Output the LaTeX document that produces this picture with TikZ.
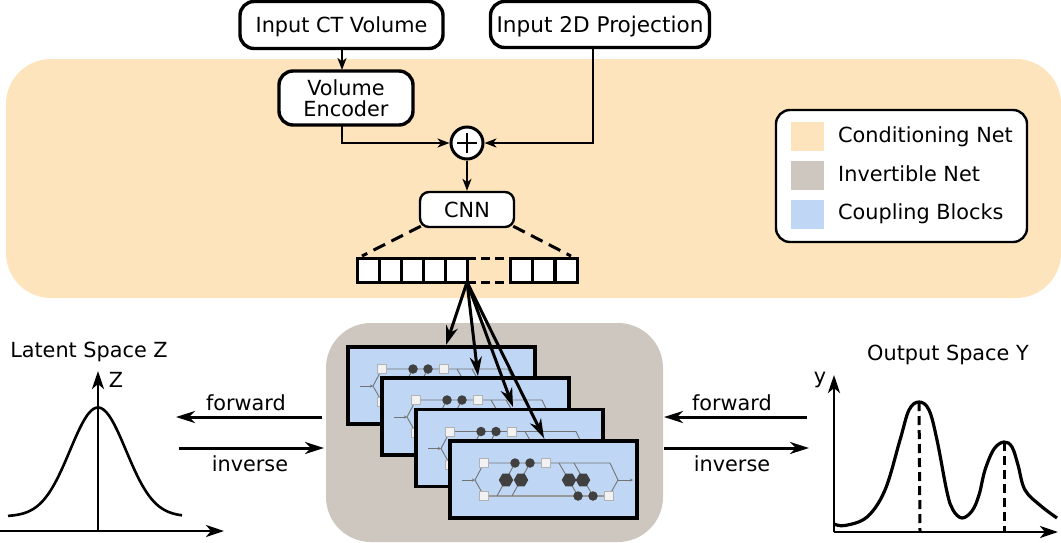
\documentclass[tikz,border=0pt]{standalone}
\usepackage{fontspec}
\setmainfont{DejaVu Sans}
\usetikzlibrary{arrows.meta,shapes.geometric}
\definecolor{condcol}{HTML}{FEE4BC}
\definecolor{invcol}{HTML}{CDC7C0}
\definecolor{blockcol}{HTML}{BFD7F4}
\definecolor{darkhex}{HTML}{404040}
\tikzset{
  txt/.style={font=\fontsize{20.8}{24}\selectfont,inner sep=0pt,align=center},
  netbox/.style={draw,fill=white,rounded corners=14pt,line width=3.4pt,align=center,font=\fontsize{20.8}{24}\selectfont,inner sep=0pt},
  swatch/.style={minimum width=33,minimum height=29,inner sep=0pt},
  cell/.style={draw,fill=white,line width=3pt,minimum width=22,minimum height=24,inner sep=0pt,outer sep=0pt},
  thin arrow/.style={line width=2pt,-{Stealth[length=12pt,width=9pt,inset=3.5pt]}},
  big arrow/.style={line width=3pt,-{Stealth[length=19pt,width=12pt,inset=6pt]}},
  axis arrow/.style={line width=2.8pt,-{Stealth[length=18pt,width=12pt,inset=5pt]}},
  sq/.style={draw=black!30,fill=black!5,line width=.9pt,minimum size=9,inner sep=0pt},
  dot/.style={circle,fill=darkhex,minimum size=9.5,inner sep=0pt},
  hex/.style={regular polygon,regular polygon sides=6,fill=darkhex,minimum size=14.5,inner sep=0pt},
  wire/.style={draw=black!55,line width=.9pt},
  couplingblock/.pic={
    \node[draw,fill=blockcol,line width=3.6pt,anchor=north west,outer sep=0pt,minimum width=187,minimum height=77,inner sep=0pt] (-card) at (0,0) {};
    \coordinate (-in) at (12,39);
    \coordinate (-split) at (25,39);
    \coordinate (-turn) at (160,22);
    \coordinate (-merge) at (168,39);
    \coordinate (-out) at (183,39);
    \coordinate (-tapa) at (47,55);
    \coordinate (-tapb) at (62,55);
    \coordinate (-tapc) at (109,22);
    \coordinate (-tapd) at (124,22);
    \draw[wire,-{Stealth[length=3pt,width=3pt]}] (-in) -- (-split);
    \draw[wire,-{Stealth[length=3pt,width=3pt]}] (-merge) -- (-out);
    \draw[wire] (34,22) -- (-split) -- (34,55);
    \draw[wire] (34,22) -- (96,22) -- (-turn) -- (-merge) -- (159,55);
    \draw[draw=black!40,line width=1.5pt] (34,55) -- (159,55);
    \draw[wire] (-tapa) -- (65,22);
    \draw[wire] (-tapb) -- (80,22);
    \draw[wire] (-tapc) -- (128,55);
    \draw[wire] (-tapd) -- (143,55);
    \node[sq] (-sqa) at (34,22) {};
    \node[sq] (-sqb) at (34,55) {};
    \node[sq] (-sqc) at (96,22) {};
    \node[sq] (-sqd) at (159,55) {};
    \node[dot] (-dota) at (65,22) {};
    \node[dot] (-dotb) at (80,22) {};
    \node[dot] (-dotc) at (128,55) {};
    \node[dot] (-dotd) at (143,55) {};
    \node[hex] (-hexa) at (56,39) {};
    \node[hex] (-hexb) at (71,39) {};
    \node[hex] (-hexc) at (119,39) {};
    \node[hex] (-hexd) at (133,39) {};
  }
}

\begin{document}
\begin{tikzpicture}[x=1pt,y=-1pt]
\useasboundingbox (0,0) rectangle (1061,542);

% panels
\fill[condcol,rounded corners=45pt] (6,59) rectangle (1061,298);
\fill[invcol,rounded corners=45pt] (326,323) rectangle (663,542);

% conditioning net
\node[netbox,text depth=0pt,minimum width=203,minimum height=47] (ctvol) at (341.5,25) {Input CT Volume};
\node[netbox,text depth=0pt,minimum width=219,minimum height=46,font=\fontsize{21.6}{24}\selectfont] (proj) at (600,24.5) {Input 2D Projection};
\node[netbox,minimum width=134,minimum height=54] (enc) at (346,98) {Volume\\[-2.5pt]Encoder};
\node[draw,circle,fill=white,line width=3pt,minimum size=32,inner sep=0pt] (plus) at (467,143) {};
\draw[line width=2.6pt] (plus.center) ++(-10,0) -- ++(20,0) (plus.center) ++(0,-10) -- ++(0,20);
\node[netbox,rounded corners=9pt,line width=2.4pt,minimum width=94,minimum height=35] (cnn) at (467,209.5) {CNN};

\coordinate (enctop) at (342,70);
\coordinate (ctbot) at (342,49);
\coordinate (encbot) at (342,125);
\coordinate (projbot) at (593,48);
\draw[thin arrow] (ctbot) -- (enctop);
\draw[thin arrow] (encbot) |- (plus.west);
\draw[thin arrow] (projbot) |- (plus.east);
\draw[thin arrow] (plus.south) -- (cnn.north);

% feature vector
\foreach \n/\cx in {1/368,2/390,3/412,4/434,5/456,6/521,7/543.5,8/566}
  \node[cell] (cell\n) at (\cx,270) {};
\draw[line width=3pt,dash pattern=on 9pt off 5pt] (cell5.north east) -- (cell6.north west) (cell5.south east) -- (cell6.south west);
\coordinate (fanl) at (362,256);
\coordinate (fanr) at (571,256);
\draw[line width=3pt,dash pattern=on 13pt off 7pt] (cnn.south west) ++(2,-2) -- (fanl);
\draw[line width=3pt,dash pattern=on 13pt off 7pt] (cnn.south east) ++(-2,-2) -- (fanr);

% coupling blocks
\pic (blocka) at (348,347) {couplingblock};
\pic (blockb) at (382,378) {couplingblock};
\pic (blockc) at (416,409.5) {couplingblock};
\pic (blockd) at (450,441) {couplingblock};

\coordinate (tipa) at (446,345);
\coordinate (tipb) at (478,376);
\coordinate (tipc) at (513,407);
\coordinate (tipd) at (544,438);
\foreach \t in {a,b,c,d}
  \draw[big arrow] (cell5.south east) -- (tip\t);

% forward and inverse
\coordinate (fwla) at (322,417);
\coordinate (fwlb) at (176,417);
\coordinate (invla) at (179,448);
\coordinate (invlb) at (324,448);
\coordinate (fwra) at (807,417);
\coordinate (fwrb) at (664,417);
\coordinate (invra) at (664,448);
\coordinate (invrb) at (809,448);
\draw[big arrow] (fwla) -- (fwlb);
\draw[big arrow] (invla) -- (invlb);
\draw[big arrow] (fwra) -- (fwrb);
\draw[big arrow] (invra) -- (invrb);
\node[txt] (fwltxt) at (246,403) {forward};
\node[txt] (invltxt) at (250,464) {inverse};
\node[txt] (fwrtxt) at (732,402.5) {forward};
\node[txt] (invrtxt) at (732,464) {inverse};

% latent space
\node[txt] (latent) at (89,352) {Latent Space Z};
\coordinate (zo) at (98,531);
\coordinate (zx0) at (0,531);
\coordinate (zx1) at (224,531);
\coordinate (zy1) at (98,371);
\draw[line width=2.6pt,domain=8:182,samples=70,smooth] plot (\x,{516.5-109*exp(-((\x-98)/28)^2/2)});
\draw[axis arrow] (zx0) -- (zx1);
\draw[axis arrow] (zo) -- (zy1);
\node[txt] (zlabel) at (116,380) {Z};

% output space
\node[txt] (output) at (948,355) {Output Space Y};
\coordinate (yo) at (834,532);
\coordinate (yx1) at (1058,532);
\coordinate (yy1) at (834,375);
\coordinate (peaka) at (919,402);
\coordinate (peakb) at (1004,442);
\coordinate (basea) at (920,531);
\coordinate (baseb) at (1004,531);
\draw[line width=3.2pt] plot[smooth,tension=.6] coordinates {(834,524) (845,525.5) (867,517) (885,490) (900,440) (909,410) (919,402) (929,410) (937,440) (947,492) (953,510) (962,518) (972,511) (979,495) (985,470) (994,449) (1004,442) (1012,447) (1018,465) (1025,490) (1041,506) (1057,518)};
\draw[axis arrow] (yo) -- (yx1);
\draw[axis arrow] (yo) -- (yy1);
\draw[line width=3pt,dash pattern=on 9pt off 5pt] (peaka) -- (basea);
\draw[line width=3pt,dash pattern=on 9pt off 5pt] (peakb) -- (baseb);
\node[txt] (ylabel) at (820,380) {y};

% legend
\node[draw,fill=white,rounded corners=14pt,line width=2.4pt,minimum width=251,minimum height=132,inner sep=0pt] (legend) at (901.5,176) {};
\node[swatch,fill=condcol] (keycond) at (807.5,136) {};
\node[swatch,fill=invcol] (keyinv) at (807.5,175) {};
\node[swatch,fill=blockcol] (keyblock) at (807.5,214) {};
\node[txt,anchor=west] (txtcond) at (838,137) {Conditioning Net};
\node[txt,anchor=west] (txtinv) at (838,174) {Invertible Net};
\node[txt,anchor=west] (txtblock) at (838,214) {Coupling Blocks};
\end{tikzpicture}
\end{document}
